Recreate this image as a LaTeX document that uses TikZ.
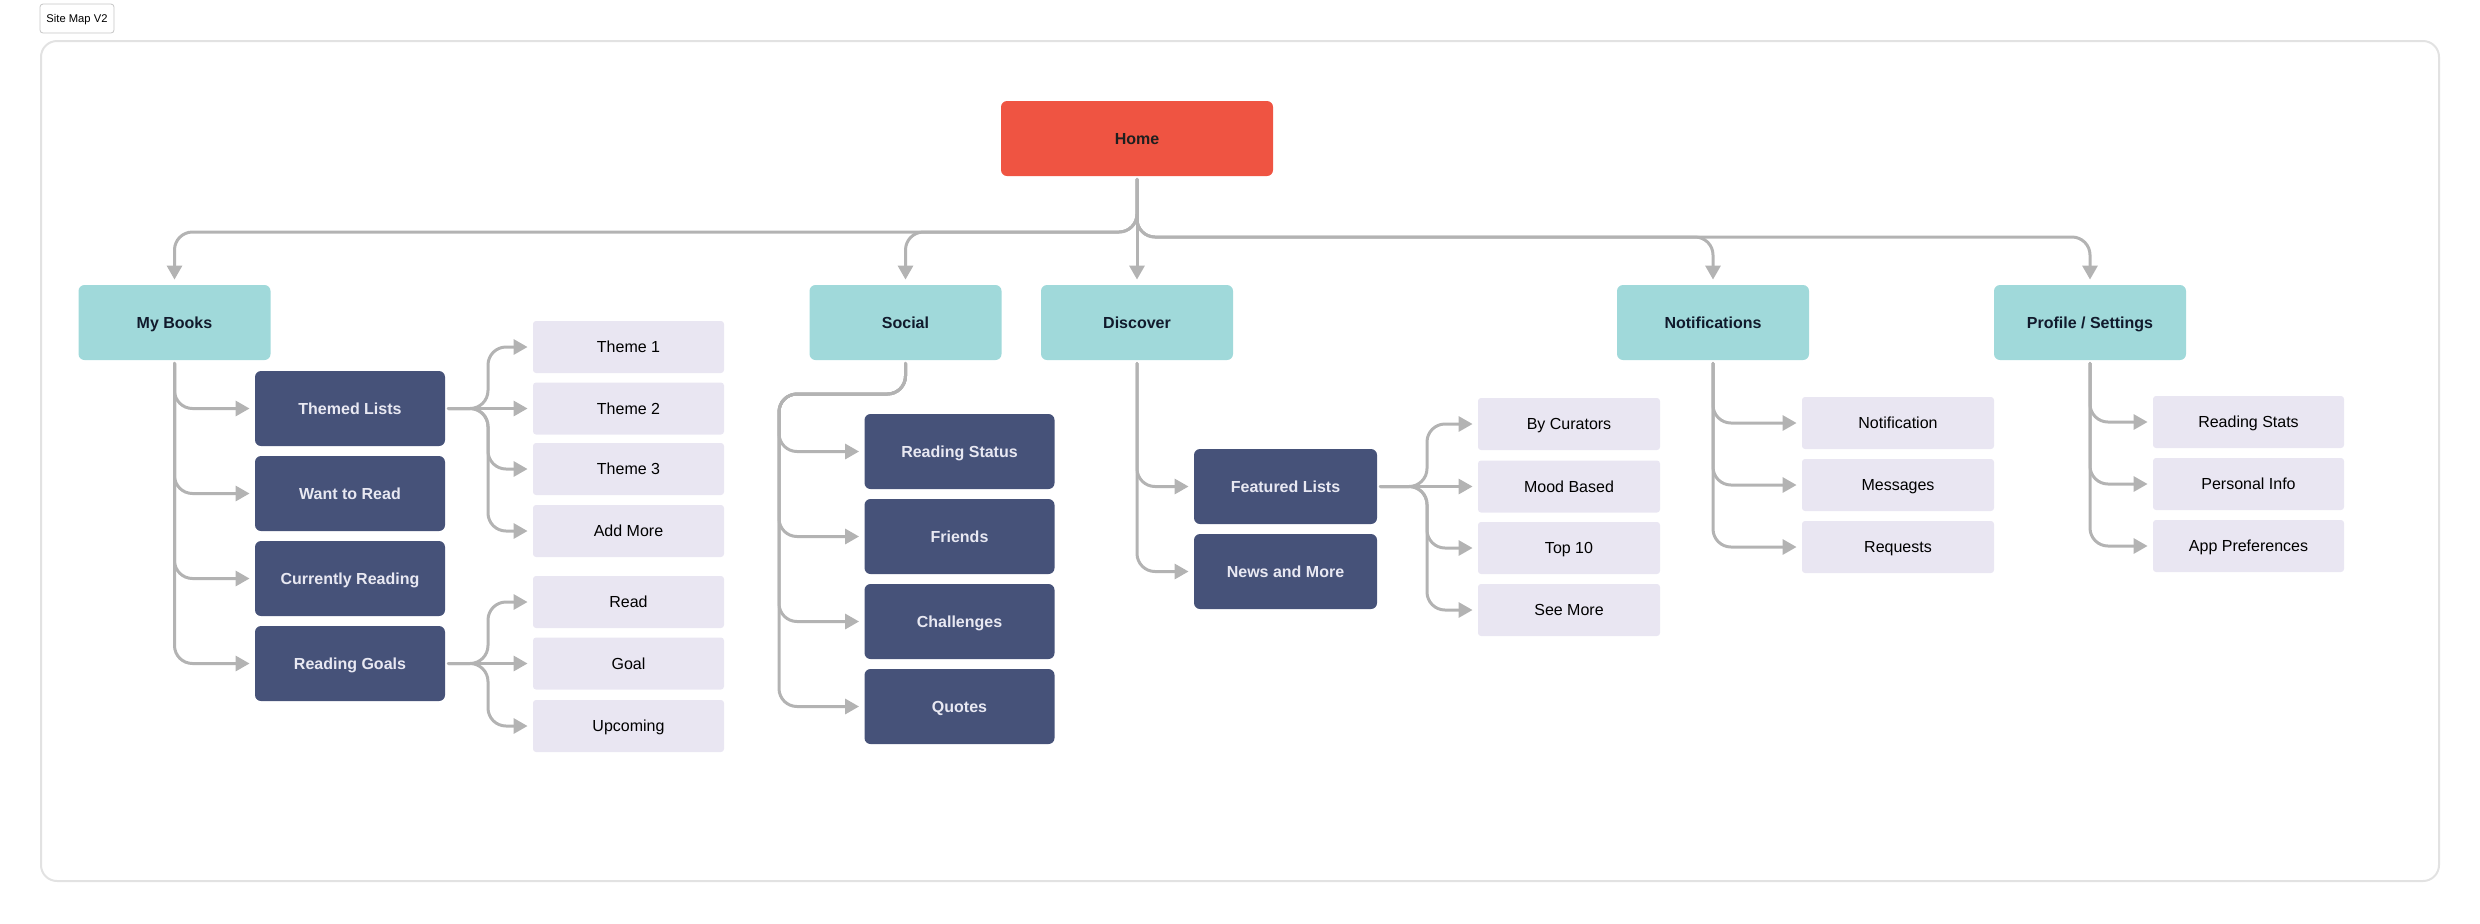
\documentclass[tikz,border=0pt]{standalone}
\usepackage{fontspec}
\setmainfont{Liberation Sans}
\usetikzlibrary{arrows.meta}
\definecolor{homered}{HTML}{EF5442}
\definecolor{sectteal}{HTML}{A0D9DA}
\definecolor{sectink}{HTML}{111A2C}
\definecolor{pagenavy}{HTML}{465279}
\definecolor{pageink}{HTML}{E8E8F2}
\definecolor{itemlilac}{HTML}{E9E6F2}
\definecolor{linkgray}{HTML}{B3B3B3}
\definecolor{framegray}{HTML}{E2E2E2}
\tikzset{
  homebox/.style={fill=homered,rounded corners=3pt,minimum width=136pt,minimum height=37.5pt,inner sep=0pt,text height=5.8pt,text depth=0pt,font=\fontsize{8}{9}\selectfont\bfseries,text=black!88},
  sectbox/.style={fill=sectteal,rounded corners=3pt,minimum width=96pt,minimum height=37.5pt,inner sep=0pt,text height=5.8pt,text depth=0pt,font=\fontsize{8}{9}\selectfont\bfseries,text=sectink},
  pagebox/.style={fill=pagenavy,rounded corners=3pt,minimum width=95pt,minimum height=37.5pt,inner sep=0pt,text height=5.8pt,text depth=0pt,font=\fontsize{8}{9}\selectfont\bfseries,text=pageink},
  itembox/.style={fill=itemlilac,rounded corners=1.5pt,minimum width=95.5pt,minimum height=26pt,inner sep=0pt,text height=5.8pt,text depth=0pt,font=\fontsize{8}{9}\selectfont,text=black},
  link/.style={draw=linkgray,line width=1.5pt,rounded corners=9pt,-{Triangle[length=7pt,width=7.5pt]},shorten >=2.5pt,shorten <=1.5pt}
}
\begin{document}
\begin{tikzpicture}[line cap=round,line join=round,x=0.5pt,y=-0.5pt]
\useasboundingbox (0,0) rectangle (2480,923);
\draw [framegray,line width=1pt,rounded corners=8pt] (41,41) rectangle (2439,881);
\node [draw=gray!45,fill=white,rounded corners=1.5pt,minimum width=37pt,minimum height=14.5pt,inner sep=0pt,text height=4pt,text depth=0pt,font=\fontsize{5.6}{6}\selectfont] (title) at (77,18.5) {Site Map V2};
\node [homebox] (home) at (1137,138.5) {Home};
\node [sectbox] (mybooks) at (174.5,322.5) {My Books};
\node [sectbox] (social) at (905.5,322.5) {Social};
\node [sectbox] (discover) at (1137,322.5) {Discover};
\node [sectbox] (notif) at (1713,322.5) {Notifications};
\node [sectbox] (profile) at (2090,322.5) {Profile / Settings};
\node [pagebox] (themed) at (350,408.5) {Themed Lists};
\node [pagebox] (wantread) at (350,493.5) {Want to Read};
\node [pagebox] (curread) at (350,578.5) {Currently Reading};
\node [pagebox] (goals) at (350,663.5) {Reading Goals};
\node [itembox] (theme1) at (628.5,347) {Theme 1};
\node [itembox] (theme2) at (628.5,408.5) {Theme 2};
\node [itembox] (theme3) at (628.5,469) {Theme 3};
\node [itembox] (addmore) at (628.5,531) {Add More};
\node [itembox] (read) at (628.5,602) {Read};
\node [itembox] (goal) at (628.5,663.5) {Goal};
\node [itembox] (upcoming) at (628.5,726) {Upcoming};
\node [pagebox] (readstatus) at (959.5,451.5) {Reading Status};
\node [pagebox] (friends) at (959.5,536.5) {Friends};
\node [pagebox] (challenges) at (959.5,621.5) {Challenges};
\node [pagebox] (quotes) at (959.5,706.5) {Quotes};
\node [pagebox,minimum width=91.5pt] (featured) at (1285.5,486.5) {Featured Lists};
\node [pagebox,minimum width=91.5pt] (newsmore) at (1285.5,571.5) {News and More};
\node [itembox,minimum width=91pt] (curators) at (1569,424) {By Curators};
\node [itembox,minimum width=91pt] (mood) at (1569,486.5) {Mood Based};
\node [itembox,minimum width=91pt] (topten) at (1569,548) {Top 10};
\node [itembox,minimum width=91pt] (seemore) at (1569,610) {See More};
\node [itembox,minimum width=96pt] (notification) at (1898,423) {Notification};
\node [itembox,minimum width=96pt] (messages) at (1898,485) {Messages};
\node [itembox,minimum width=96pt] (requests) at (1898,547) {Requests};
\node [itembox] (readstats) at (2248.5,422) {Reading Stats};
\node [itembox] (personal) at (2248.5,484) {Personal Info};
\node [itembox] (apppref) at (2248.5,546) {App Preferences};
\coordinate (leftbus) at (1137,232);
\coordinate (rightbus) at (1137,237);
\coordinate (themefork) at (488,408.5);
\coordinate (socialbend) at (779,394);
\coordinate (featfork) at (1427,486.5);
\draw [link] (home.south) -- (leftbus) -| (mybooks.north);
\draw [link] (home.south) -- (leftbus) -| (social.north);
\draw [link] (home.south) -- (discover.north);
\draw [link] (home.south) -- (rightbus) -| (notif.north);
\draw [link] (home.south) -- (rightbus) -| (profile.north);
\draw [link] (mybooks.south) |- (themed.west);
\draw [link] (mybooks.south) |- (wantread.west);
\draw [link] (mybooks.south) |- (curread.west);
\draw [link] (mybooks.south) |- (goals.west);
\draw [link] (themed.east) -- (themefork) |- (theme1.west);
\draw [link] (themed.east) -- (theme2.west);
\draw [link] (themed.east) -- (themefork) |- (theme3.west);
\draw [link] (themed.east) -- (themefork) |- (addmore.west);
\draw [link] (goals.east) -- (themefork |- goals.east) |- (read.west);
\draw [link] (goals.east) -- (goal.west);
\draw [link] (goals.east) -- (themefork |- goals.east) |- (upcoming.west);
\draw [link] (social.south) -- (social.south |- socialbend) -- (socialbend) |- (readstatus.west);
\draw [link] (social.south) -- (social.south |- socialbend) -- (socialbend) |- (friends.west);
\draw [link] (social.south) -- (social.south |- socialbend) -- (socialbend) |- (challenges.west);
\draw [link] (social.south) -- (social.south |- socialbend) -- (socialbend) |- (quotes.west);
\draw [link] (discover.south) |- (featured.west);
\draw [link] (discover.south) |- (newsmore.west);
\draw [link] (featured.east) -- (featfork) |- (curators.west);
\draw [link] (featured.east) -- (mood.west);
\draw [link] (featured.east) -- (featfork) |- (topten.west);
\draw [link] (featured.east) -- (featfork) |- (seemore.west);
\draw [link] (notif.south) |- (notification.west);
\draw [link] (notif.south) |- (messages.west);
\draw [link] (notif.south) |- (requests.west);
\draw [link] (profile.south) |- (readstats.west);
\draw [link] (profile.south) |- (personal.west);
\draw [link] (profile.south) |- (apppref.west);
\end{tikzpicture}
\end{document}
